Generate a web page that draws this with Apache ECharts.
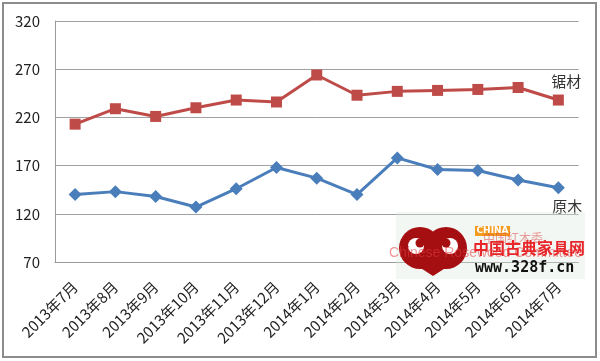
<!DOCTYPE html>
<html>
<head>
<meta charset="utf-8">
<script src="https://cdn.jsdelivr.net/npm/echarts@6/dist/echarts.min.js"></script>
<style>
html,body{margin:0;padding:0;background:#fff;}
#chart{width:600px;height:361px;}
</style>
</head>
<body>
<div id="chart"></div>
<script>
var categories = ['2013年7月','2013年8月','2013年9月','2013年10月','2013年11月','2013年12月','2014年1月','2014年2月','2014年3月','2014年4月','2014年5月','2014年6月','2014年7月'];
var sawnTimber = [213, 229, 221, 230, 238, 236, 264, 243, 247, 248, 249, 251, 238];
var logs = [140, 143, 138, 127, 146, 168, 157, 140, 178, 166, 165, 155, 147];
var seriesNames = ['锯材', '原木'];
var yTicks = {min: 70, max: 320, interval: 50};

var FONT = '"Noto Sans CJK SC", "Noto Sans", sans-serif';

function withEndLabel(values, pos, offset) {
  return values.map(function (v, i) {
    if (i === values.length - 1) {
      return {value: v, label: {show: true, position: pos, offset: offset}};
    }
    return v;
  });
}

var chart = echarts.init(document.getElementById('chart'), null, {renderer: 'canvas'});
chart.setOption({
  animation: false,
  backgroundColor: '#ffffff',
  textStyle: {fontFamily: FONT},
  grid: {left: 55, right: 21.5, top: 21, bottom: 99, containLabel: false},
  xAxis: {
    type: 'category',
    data: categories,
    boundaryGap: true,
    axisLine: {show: true, lineStyle: {color: '#9a9a9a', width: 1}},
    axisTick: {show: false},
    axisLabel: {interval: 0, rotate: 45, fontSize: 15, color: '#222', margin: 22, fontFamily: FONT}
  },
  yAxis: {
    type: 'value',
    min: yTicks.min, max: yTicks.max, interval: yTicks.interval,
    axisLine: {show: true, lineStyle: {color: '#9a9a9a', width: 1}},
    axisTick: {show: false},
    axisLabel: {fontSize: 15, color: '#222', margin: 15, fontFamily: FONT},
    splitLine: {show: true, lineStyle: {color: '#a0a0a0', width: 1}}
  },
  series: [
    {
      name: seriesNames[0], type: 'line',
      data: withEndLabel(sawnTimber, 'top', [8, -1]),
      symbol: 'rect', symbolSize: 11,
      lineStyle: {color: '#BE4B48', width: 3},
      itemStyle: {color: '#BE4B48'},
      label: {show: false, formatter: seriesNames[0], fontSize: 15, color: '#333', fontFamily: FONT},
      z: 3
    },
    {
      name: seriesNames[1], type: 'line',
      data: withEndLabel(logs, 'bottom', [9, 0]),
      symbol: 'diamond', symbolSize: 13,
      lineStyle: {color: '#4A7EBB', width: 3},
      itemStyle: {color: '#4A7EBB'},
      label: {show: false, formatter: seriesNames[1], fontSize: 15, color: '#333', fontFamily: FONT},
      z: 3
    }
  ],
  graphic: [
    {type: 'rect', shape: {x: 3, y: 3, width: 593, height: 354}, style: {fill: 'none', stroke: '#8c8c8c', lineWidth: 2}, z: 10, silent: true},
    {type: 'rect', shape: {x: 396, y: 212, width: 189, height: 67}, style: {fill: 'rgba(220,232,220,0.35)'}, z: 5, silent: true},
    {type: 'circle', shape: {cx: 420, cy: 248, r: 21}, style: {fill: '#A50F12'}, z: 6, silent: true},
    {type: 'circle', shape: {cx: 446, cy: 248, r: 21}, style: {fill: '#A50F12'}, z: 6, silent: true},
    {type: 'polygon', shape: {points: [[402, 256], [464, 256], [433, 276]]}, style: {fill: '#A50F12'}, z: 6, silent: true},
    {type: 'circle', shape: {cx: 416, cy: 246, r: 8}, style: {fill: '#ffffff'}, z: 7, silent: true},
    {type: 'circle', shape: {cx: 450, cy: 246, r: 8}, style: {fill: '#ffffff'}, z: 7, silent: true},
    {type: 'circle', shape: {cx: 420, cy: 243, r: 4.5}, style: {fill: '#A50F12'}, z: 8, silent: true},
    {type: 'circle', shape: {cx: 446, cy: 243, r: 4.5}, style: {fill: '#A50F12'}, z: 8, silent: true},
    {type: 'rect', shape: {x: 475, y: 226, width: 35, height: 10}, style: {fill: '#F39B1F'}, z: 6, silent: true},
    {type: 'text', x: 492.5, y: 231, style: {text: 'CHINA', fill: '#ffffff', font: 'bold 9px "DejaVu Sans", sans-serif', textAlign: 'center', textVerticalAlign: 'middle'}, z: 7, silent: true},
    {type: 'text', x: 483, y: 238, style: {text: '中国红木委', fill: 'rgba(220,60,60,0.5)', font: '12px "Noto Sans CJK SC", sans-serif', textAlign: 'left', textVerticalAlign: 'middle'}, z: 6, silent: true},
    {type: 'text', x: 389, y: 253, style: {text: 'Chinese Rosewood Committee', fill: 'rgba(230,60,60,0.55)', font: '14px "Liberation Sans", sans-serif', textAlign: 'left', textVerticalAlign: 'middle'}, z: 7, silent: true},
    {type: 'text', x: 473, y: 248, style: {text: '中国古典家具网', fill: '#E8262A', font: 'bold 16px "Noto Sans CJK SC", sans-serif', textAlign: 'left', textVerticalAlign: 'middle'}, z: 8, silent: true},
    {type: 'text', x: 475, y: 268, style: {text: 'www.328f.cn', fill: '#111', font: 'bold 15px "DejaVu Sans Mono", monospace', textAlign: 'left', textVerticalAlign: 'middle'}, z: 8, silent: true}
  ]
});
</script>
</body>
</html>
